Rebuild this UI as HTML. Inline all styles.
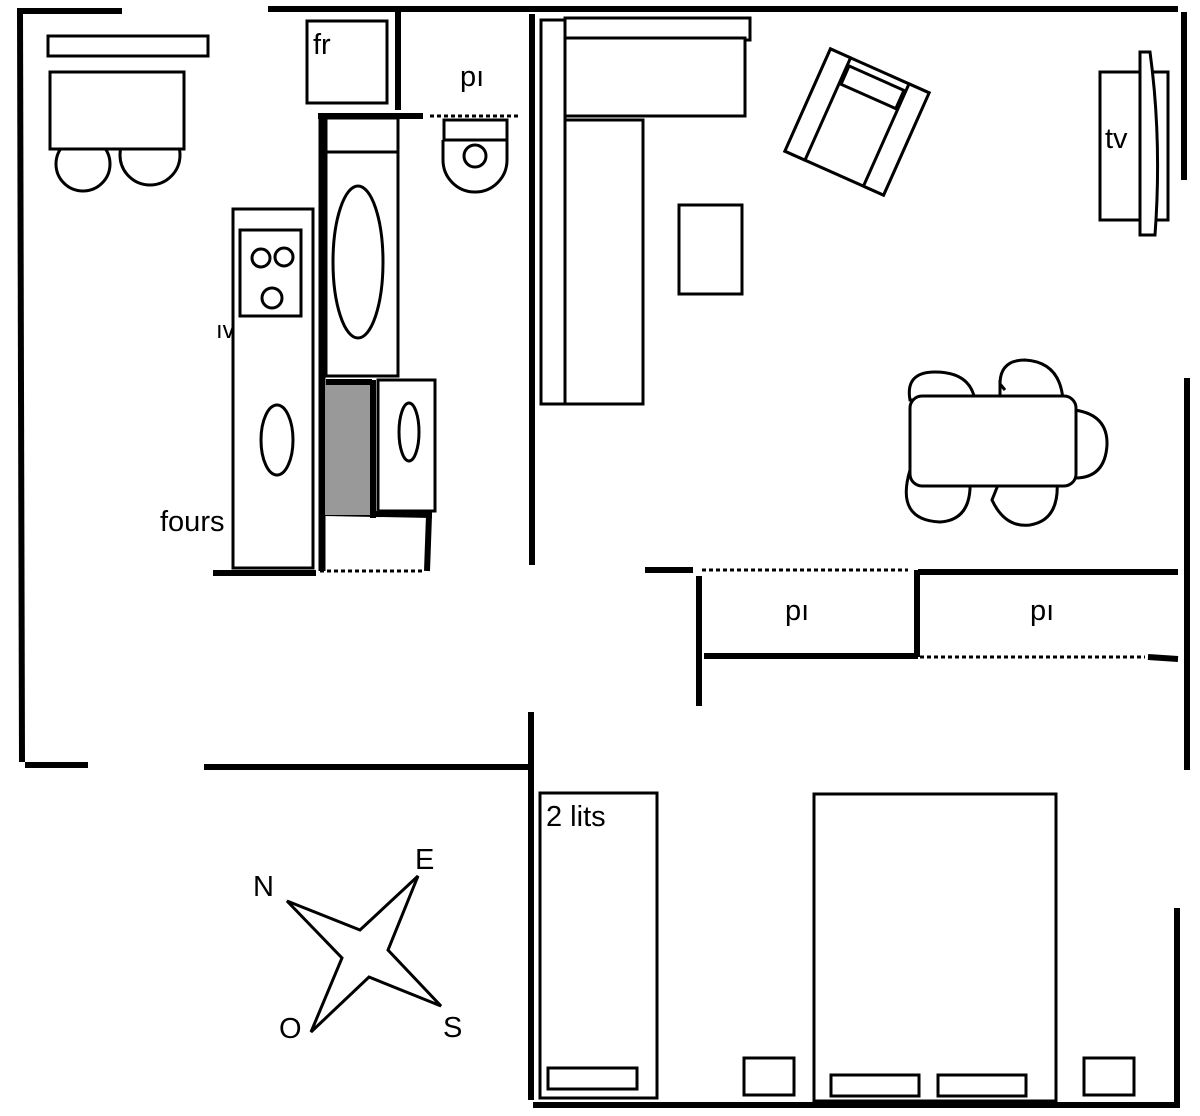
<!DOCTYPE html>
<html><head><meta charset="utf-8"><style>html,body{margin:0;padding:0;background:#fff}svg{display:block}text{font-family:"Liberation Sans",sans-serif;fill:#000}</style></head>
<body>
<svg width="1200" height="1116" viewBox="0 0 1200 1116" xmlns="http://www.w3.org/2000/svg">
<g stroke="#000" stroke-width="6" fill="none" stroke-linecap="butt">
<path d="M17,11 H122"/>
<path d="M20,11 L22,762"/>
<path d="M25,765 H88"/>
<path d="M204,767 H528"/>
<path d="M268,9 H1178"/>
<path d="M1184,12 V180"/>
<path d="M398,11 V110"/>
<path d="M532,14 V565"/>
<path d="M1187,378 V770"/>
<path d="M318,116 H423"/>
<path d="M322,114 V571" stroke-width="7"/>
<path d="M326,382 H372"/>
<path d="M373,380 V518"/>
<path d="M325,513 L432,515"/>
<path d="M429,515 L427,571"/>
<path d="M213,573 H316"/>
<path d="M645,570 H693"/>
<path d="M918,572 H1178"/>
<path d="M699,576 V706"/>
<path d="M917,570 V657"/>
<path d="M704,656 H918"/>
<path d="M1148,657 L1178,659"/>
<path d="M531,712 V1100"/>
<path d="M533,1105 H1180"/>
<path d="M1177,908 V1103"/>
</g>
<rect x="325" y="385" width="45" height="130" fill="#999"/>
<g stroke="#000" stroke-width="3" fill="none" stroke-dasharray="4,3">
<path d="M430,116 H520"/>
<path d="M320,571 H424"/>
<path d="M702,570 H908"/>
<path d="M920,657 H1145"/>
</g>
<g stroke="#000" stroke-width="3" fill="#fff">
<rect x="48" y="36" width="160" height="20"/>
<circle cx="83" cy="164" r="27"/>
<circle cx="150" cy="155" r="30"/>
<rect x="50" y="72" width="134" height="77"/>
<rect x="307" y="21" width="80" height="82"/>
<rect x="233" y="209" width="80" height="359"/>
<rect x="240" y="230" width="61" height="86"/>
<circle cx="261" cy="258" r="9"/><circle cx="284" cy="257" r="9"/><circle cx="272" cy="298" r="10"/>
<ellipse cx="277" cy="440" rx="16" ry="35"/>
<rect x="326" y="118" width="72" height="258"/>
<path d="M326,152 H398" />
<ellipse cx="358" cy="262" rx="25" ry="76"/>
<rect x="378" y="380" width="57" height="131"/>
<ellipse cx="409" cy="432" rx="10" ry="29"/>
<path d="M443,140 V160 A32,32 0 0 0 507,160 V140"/>
<rect x="444" y="120" width="63" height="20"/>
<circle cx="475" cy="156" r="11"/>
<rect x="541" y="20" width="24" height="384"/>
<rect x="565" y="18" width="185" height="22"/>
<rect x="565" y="38" width="180" height="78"/>
<rect x="565" y="120" width="78" height="284"/>
<rect x="679" y="205" width="63" height="89"/>
<g transform="translate(857,122) rotate(24)">
<rect x="-54" y="-56" width="108" height="112"/>
<rect x="-54" y="-56" width="22" height="112"/>
<rect x="32" y="-56" width="22" height="112"/>
<rect x="-30" y="-48" width="60" height="20"/>
</g>
<rect x="1100" y="72" width="68" height="148"/>
<path d="M1140,52 H1150 Q1162,140 1155,235 H1140 Z"/>
<path d="M910,400 Q905,372 935,372 Q970,372 975,400 Z"/>
<path d="M1000,384 Q1000,360 1025,360 Q1060,362 1063,400 L1000,400 L1000,384 L1005,390 Z"/>
<path d="M910,470 Q895,520 940,522 Q972,520 970,480 Z"/>
<path d="M1000,480 L992,500 Q1005,528 1030,525 Q1060,520 1057,480 Z"/>
<path d="M1075,410 Q1108,415 1107,445 Q1105,478 1075,478 Z"/>
<rect x="910" y="396" width="166" height="90" rx="12"/>
<rect x="540" y="793" width="117" height="305"/>
<rect x="548" y="1068" width="89" height="21"/>
<rect x="744" y="1058" width="50" height="37"/>
<rect x="814" y="794" width="242" height="307"/>
<rect x="831" y="1075" width="88" height="21"/>
<rect x="938" y="1075" width="88" height="21"/>
<rect x="1084" y="1058" width="50" height="37"/>
<path d="M287,901 L360,930 L418,876 L388,950 L441,1006 L369,977 L311,1032 L342,958 Z" fill="none"/>
</g>
<g font-size="29">
<text x="313" y="54">fr</text>
<text x="460" y="86">pı</text>
<text x="1105" y="148">tv</text>
<text x="785" y="620">pı</text>
<text x="1030" y="620">pı</text>
<text x="546" y="826">2 lits</text>
<text x="160" y="531">fours</text>
<text x="216" y="338" font-size="24">ıv</text>
<text x="253" y="896">N</text>
<text x="415" y="869">E</text>
<text x="279" y="1038">O</text>
<text x="443" y="1037">S</text>
</g>
</svg>
</body></html>
